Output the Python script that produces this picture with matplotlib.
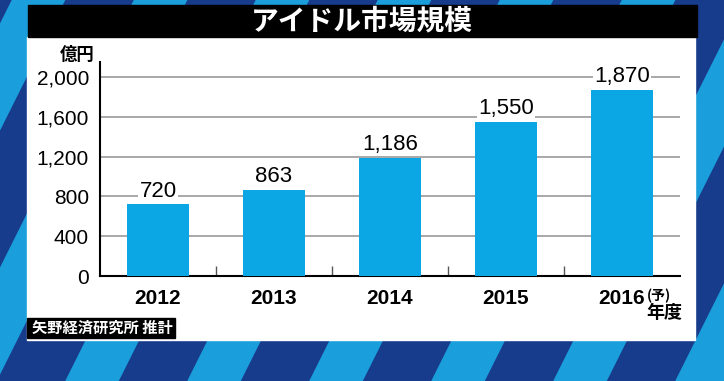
import numpy as np
import matplotlib
matplotlib.use("Agg")
import matplotlib.pyplot as plt
from matplotlib.patches import Rectangle, Polygon

plt.rcParams['font.family'] = ['Liberation Sans', 'Noto Sans CJK JP', 'DejaVu Sans']

years = ['2012', '2013', '2014', '2015', '2016']
values = [720, 863, 1186, 1550, 1870]
value_labels = ['720', '863', '1,186', '1,550', '1,870']
yticks = [0, 400, 800, 1200, 1600, 2000]
ytick_labels = ['0', '400', '800', '1,200', '1,600', '2,000']

W, H = 724, 381
BAR = '#0ba6e4'

fig = plt.figure(figsize=(W / 100, H / 100), dpi=100)

# background: diagonal stripes, panel, title bar
bg = fig.add_axes([0, 0, 1, 1], zorder=0)
bg.set_xlim(0, W)
bg.set_ylim(H, 0)
bg.axis('off')
bg.add_patch(Rectangle((0, 0), W, H, color='#173c8c'))
period, width, slant = 122, 52, 0.5
for x0 in np.arange(-300, W + 300, period):
    pts = [(x0, H), (x0 + width, H), (x0 + width + slant * H, 0), (x0 + slant * H, 0)]
    bg.add_patch(Polygon(pts, closed=True, color='#1b9fdc'))
bg.add_patch(Rectangle((27, 37), 668, 303, color='white'))
bg.add_patch(Rectangle((28, 5), 669, 32, color='black'))
bg.add_patch(Rectangle((27, 318), 148, 20, color='black'))

fig.text(362 / W, 1 - 21 / H, 'アイドル市場規模', color='white', fontsize=20,
         fontweight='bold', ha='center', va='center', family=['Noto Sans CJK JP'])
fig.text(32 / W, 1 - 328 / H, '矢野経済研究所 推計', color='white', fontsize=11,
         fontweight='bold', ha='left', va='center', family=['Noto Sans CJK JP'])
fig.text(77 / W, 1 - 55 / H, '億円', fontsize=12.5, fontweight='bold',
         ha='center', va='center', family=['Noto Sans CJK JP'])
fig.text(664 / W, 1 - 312 / H, '年度', fontsize=13, fontweight='bold',
         ha='center', va='center', family=['Noto Sans CJK JP'])

# main chart
ax = fig.add_axes([100 / W, 105 / H, 580 / W, 214 / H], zorder=1)
ax.set_facecolor('none')
x = np.arange(len(years))
ax.bar(x, values, width=0.54, color=BAR, zorder=3)
for xi, v, lab in zip(x, values, value_labels):
    ax.annotate(lab, xy=(xi, v), xytext=(0, 2), textcoords='offset points',
                ha='center', va='bottom', fontsize=16, zorder=4,
                bbox=dict(boxstyle='square,pad=0.05', fc='white', ec='none'))

ax.set_xlim(-0.5, 4.5)
ax.set_ylim(0, 2150)
ax.set_yticks(yticks)
ax.set_yticklabels(ytick_labels, fontsize=15)
ax.set_xticks(x)
ax.set_xticklabels(years, fontsize=15, fontweight='bold')
ax.tick_params(axis='y', length=0, pad=8)
ax.tick_params(axis='x', which='major', length=0, pad=9)
ax.set_xticks([0.5, 1.5, 2.5, 3.5], minor=True)
ax.tick_params(axis='x', which='minor', direction='in', length=7, width=1, color='#555555')
ax.yaxis.grid(True, color='#9a9a9a', lw=1.2, zorder=1)
ax.set_axisbelow(True)
for s in ['top', 'right']:
    ax.spines[s].set_visible(False)
ax.spines['left'].set_linewidth(1.5)
ax.spines['bottom'].set_linewidth(1.5)

ax.annotate('(予)', xy=(4, 0), xytext=(18, -9), textcoords='offset points',
            ha='left', va='top', fontsize=10, fontweight='bold',
            family=['Noto Sans CJK JP'])

fig.savefig('out.png', dpi=100)
